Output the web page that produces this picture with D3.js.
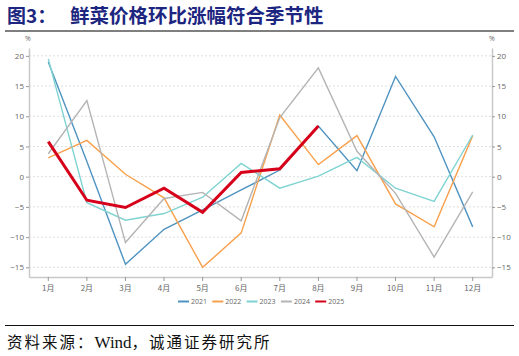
<!DOCTYPE html>
<html><head><meta charset="utf-8">
<script src="https://cdn.jsdelivr.net/npm/d3@7"></script>
<style>
body{margin:0;background:#fff;}
svg{display:block;}
</style></head>
<body>
<script>
const months = ["1月","2月","3月","4月","5月","6月","7月","8月","9月","10月","11月","12月"];
const yTicks = [-15,-10,-5,0,5,10,15,20];
const years = ["2021","2022","2023","2024","2025"];
const v2021 = [19.0, 2.5, -14.5, -8.7, -5.5, -2.2, 1.1, 8.4, 1.0, 16.6, 6.6, -8.3];
const v2022 = [3.1, 6.0, 0.4, -3.5, -15.0, -9.3, 10.2, 2.0, 6.8, -4.5, -8.3, 6.8];
const v2023 = [19.5, -4.3, -7.2, -6.1, -3.4, 2.2, -1.9, 0.1, 3.2, -1.9, -4.1, 6.9];
const v2024 = [3.8, 12.6, -10.9, -3.6, -2.6, -7.3, 9.8, 18.0, 4.2, -2.75, -13.3, -2.5];
const v2025 = [5.8, -3.9, -5.1, -1.9, -5.9, 0.7, 1.3, 8.4];
const colors = ["#4f93c0","#f9a04c","#7fd3d2","#b4b4b4","#d7001a"];
const series = [v2021, v2022, v2023, v2024, v2025];

(function(){
const W = 519, H = 356;
const svg = d3.select("body").append("svg").attr("width", W).attr("height", H);

const cjk = "'Noto Sans CJK SC', sans-serif";
svg.append("text").attr("x", 7).attr("y", 23)
  .attr("font-family", cjk).attr("font-weight", "bold").attr("font-size", 19)
  .attr("fill", "#1c2680").text("图3：");
svg.append("text").attr("x", 70).attr("y", 23)
  .attr("font-family", cjk).attr("font-weight", "bold").attr("font-size", 19.5)
  .attr("fill", "#1c2680").text("鲜菜价格环比涨幅符合季节性");
svg.append("line").attr("x1", 5).attr("x2", 514).attr("y1", 31).attr("y2", 31)
  .attr("stroke", "#7f7f7f").attr("stroke-width", 2);

const pl = 29, pr = 492, pt = 48, pb = 277;
const x = d3.scaleBand().domain(months).range([pl, pr]);
const y = d3.scaleLinear().domain([-16.6, 21.3]).range([pb, pt]);
const xc = m => x(m) + x.bandwidth()/2;

svg.append("g").selectAll("line").data(yTicks).join("line")
  .attr("x1", pl).attr("x2", pr).attr("y1", d => y(d)).attr("y2", d => y(d))
  .attr("stroke", "#dedede").attr("stroke-width", 1).attr("stroke-dasharray", "2,2");

const tickFont = "'Open Sans', 'Noto Sans', sans-serif";
const gl = svg.append("g").attr("transform", `translate(${pl},0)`)
  .call(d3.axisLeft(y).tickValues(yTicks).tickSize(3).tickPadding(2).tickSizeOuter(0));
const gr = svg.append("g").attr("transform", `translate(${pr},0)`)
  .call(d3.axisRight(y).tickValues(yTicks).tickSize(3).tickPadding(2).tickSizeOuter(0));
const gb = svg.append("g").attr("transform", `translate(0,${pb})`)
  .call(d3.axisBottom(x).tickSize(4).tickPadding(4).tickSizeOuter(0));
[gl, gr, gb].forEach(g => {
  g.select(".domain").attr("stroke", "#c8c8c8").attr("stroke-width", 1.5);
  g.selectAll(".tick line").attr("stroke", "#999");
  g.selectAll(".tick text").attr("fill", "#666").attr("font-size", 8)
    .attr("font-family", tickFont);
});
gb.selectAll(".tick text").attr("font-family", cjk).attr("font-size", 8);

svg.append("text").attr("x", 28).attr("y", 41).attr("text-anchor", "middle")
  .attr("font-size", 7).attr("fill", "#666").attr("font-family", tickFont).text("%");
svg.append("text").attr("x", 492).attr("y", 41).attr("text-anchor", "middle")
  .attr("font-size", 7).attr("fill", "#666").attr("font-family", tickFont).text("%");

const line = d3.line().x((d, i) => xc(months[i])).y(d => y(d));
series.forEach((s, k) => {
  svg.append("path").datum(s).attr("d", line).attr("fill", "none")
    .attr("stroke", colors[k]).attr("stroke-width", k === 4 ? 3 : 1.4)
    .attr("stroke-linejoin", "miter");
});

const lg = svg.append("g");
const lx0 = 178, lstep = 34.3, ly = 301.5;
years.forEach((yr, k) => {
  const gx = lx0 + k * lstep;
  lg.append("line").attr("x1", gx).attr("x2", gx + 11).attr("y1", ly).attr("y2", ly)
    .attr("stroke", colors[k]).attr("stroke-width", 2);
  lg.append("text").attr("x", gx + 13).attr("y", ly + 2.5)
    .attr("font-size", 7).attr("fill", "#666").attr("font-family", tickFont).text(yr);
});

svg.append("line").attr("x1", 5).attr("x2", 514).attr("y1", 325.5).attr("y2", 325.5)
  .attr("stroke", "#111").attr("stroke-width", 1);
const src = svg.append("text").attr("x", 7).attr("y", 348)
  .attr("font-family", "'Liberation Serif', 'Noto Sans CJK SC', serif").attr("font-size", 15.5)
  .attr("fill", "#111");
src.append("tspan").attr("letter-spacing", 2).text("资料来源：");
src.append("tspan").attr("font-size", 17).text("Wind");
src.append("tspan").attr("letter-spacing", 2).text("，诚通证券研究所");
})();
</script>
</body></html>
